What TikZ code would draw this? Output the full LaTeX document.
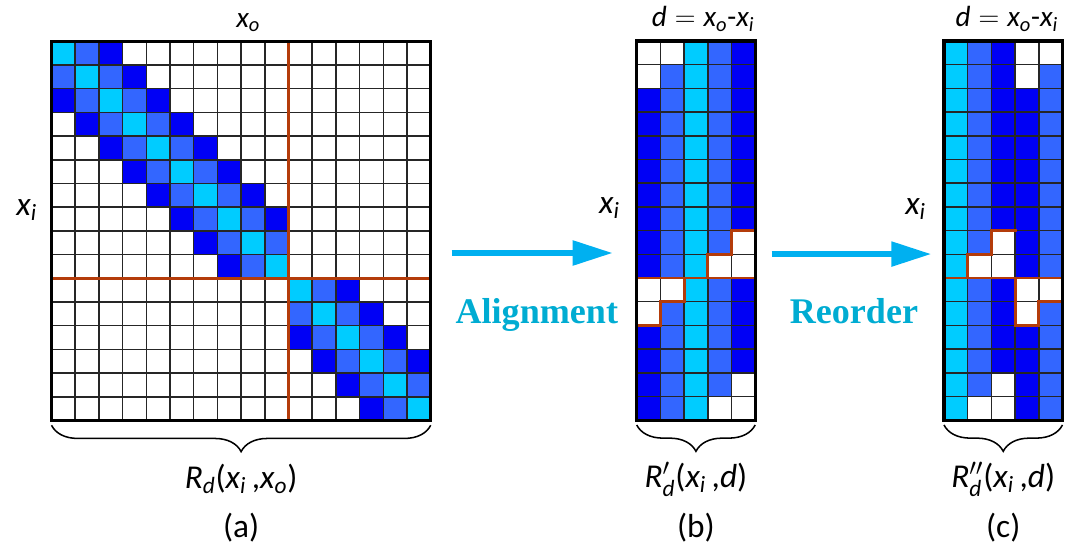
\documentclass[tikz,border=0pt]{standalone}
\usepackage{amsmath}
\usepackage{fontspec}
\setmainfont{Carlito}
\newfontfamily\capfont{Liberation Serif}
\usetikzlibrary{arrows.meta,positioning,decorations.pathreplacing,calc}

\definecolor{band0}{HTML}{00CCFF}
\definecolor{band1}{HTML}{3366FF}
\definecolor{band2}{HTML}{0000F5}
\definecolor{split}{RGB}{180,60,10}
\definecolor{flow}{HTML}{00B0F0}
\definecolor{flowtext}{RGB}{0,172,210}

\newcommand{\iv}[1]{\text{\itshape #1}}

\begin{document}
\begin{tikzpicture}[
    x=0.6cm, y=-0.6cm, % one unit = one cell, rows counted downwards
    gridline/.style={draw=black!85, line width=1.05pt},
    frameline/.style={draw=black, line width=2.2pt},
    splitline/.style={draw=split, line width=2.1pt, line cap=rect},
    flowarrow/.style={draw=flow, line width=4.7pt, -{Triangle[length=29pt,width=17pt]}},
    flowlabel/.style={font=\capfont\bfseries\fontsize{26}{30}\selectfont, text=flowtext, anchor=base, inner sep=0pt},
    axis/.style={font=\fontsize{24}{28}\selectfont, anchor=base, inner sep=0pt},
    toplabel/.style={font=\fontsize{21}{25}\selectfont, anchor=base, inner sep=0pt},
    caption/.style={font=\fontsize{24}{28}\selectfont, anchor=base, inner sep=0pt},
    curly/.style={draw, line width=1.1pt, decorate, decoration={brace, mirror, amplitude=19pt}}
  ]
    \useasboundingbox (0,0) rectangle (45.907,23.122);

    % (a) full matrix, two diagonal blocks
    \begin{scope}[shift={(2.173,1.743)}]
      \foreach \r in {0,...,15}
        \foreach \c in {0,...,15}{
          \pgfmathtruncatemacro{\dd}{abs(\c-\r)}
          \pgfmathtruncatemacro{\same}{(\r<10)==(\c<10)}
          \ifnum\same=1 \ifnum\dd<3
            \fill[band\dd] (\c,\r) rectangle ++(1,1);
          \fi\fi
        }
      \foreach \k in {1,...,15}{
        \draw[gridline] (\k,0) -- (\k,16);
        \draw[gridline] (0,\k) -- (16,\k);
      }
      \draw[splitline] (10,0) -- (10,16);
      \draw[splitline] (0,10) -- (16,10);
      \draw[frameline] (0,0) rectangle (16,16);

      \node[toplabel] (xoA) at (8.3,-0.6) {$\iv{x}_{\iv{o}}$};
      \node[axis] (xiA) at (-1.05,7.33) {$\iv{x}_{\iv{i}}$};
      \draw[curly] (0,16.2) -- (16,16.2);
      \node[axis] (rA) at (8,18.85) {$\iv{R}_{\iv{d}}\text{(}\iv{x}_{\iv{i}}\,\text{,}\iv{x}_{\iv{o}}\text{)}$};
      \node[caption] (capA) at (8,20.95) {(a)};
    \end{scope}

    % (b) aligned by offset d
    \begin{scope}[shift={(26.865,1.73)}]
      \foreach \r in {0,...,15}
        \foreach \j in {0,...,4}{
          \pgfmathtruncatemacro{\c}{\r+\j-2}
          \pgfmathtruncatemacro{\dd}{abs(\j-2)}
          \pgfmathtruncatemacro{\ok}{(\c>=0)&&(\c<16)&&((\r<10)==(\c<10))}
          \ifnum\ok=1
            \fill[band\dd] (\j,\r) rectangle ++(1,1);
          \fi
        }
      \foreach \k in {1,...,4} \draw[gridline] (\k,0) -- (\k,16);
      \foreach \k in {1,...,15} \draw[gridline] (0,\k) -- (5,\k);
      \draw[splitline] (5,8) -- (4,8) -- (4,9) -- (3,9) -- (3,10);
      \draw[splitline] (0,10) -- (5,10);
      \draw[splitline] (2,10) -- (2,11) -- (1,11) -- (1,12) -- (0,12);
      \draw[frameline] (0,0) rectangle (5,16);

      \node[toplabel] (dB) at (2.8,-0.6) {$\iv{d} = \iv{x}_{\iv{o}}\text{-}\iv{x}_{\iv{i}}$};
      \node[axis] (xiB) at (-1.15,7.29) {$\iv{x}_{\iv{i}}$};
      \draw[curly] (0,16.2) -- (5,16.2);
      \node[axis] (rB) at (2.5,18.85) {$\iv{R}'_{\iv{d}}\text{(}\iv{x}_{\iv{i}}\,\text{,}\iv{d}\text{)}$};
      \node[caption] (capB) at (2.5,20.95) {(b)};
    \end{scope}

    % (c) columns reordered
    \begin{scope}[shift={(39.83,1.73)}]
      \foreach \r in {0,...,15}
        \foreach \j/\d in {0/0,1/1,2/2,3/-2,4/-1}{
          \pgfmathtruncatemacro{\c}{\r+\d}
          \pgfmathtruncatemacro{\dd}{abs(\d)}
          \pgfmathtruncatemacro{\ok}{(\c>=0)&&(\c<16)&&((\r<10)==(\c<10))}
          \ifnum\ok=1
            \fill[band\dd] (\j,\r) rectangle ++(1,1);
          \fi
        }
      \foreach \k in {1,...,4} \draw[gridline] (\k,0) -- (\k,16);
      \foreach \k in {1,...,15} \draw[gridline] (0,\k) -- (5,\k);
      \draw[splitline] (3,8) -- (2,8) -- (2,9) -- (1,9) -- (1,10);
      \draw[splitline] (0,10) -- (5,10);
      \draw[splitline] (3,10) -- (3,12) -- (4,12) -- (4,11) -- (5,11) -- (5,10);
      \draw[frameline] (0,0) rectangle (5,16);

      \node[toplabel] (dC) at (2.65,-0.6) {$\iv{d} = \iv{x}_{\iv{o}}\text{-}\iv{x}_{\iv{i}}$};
      \node[axis] (xiC) at (-1.2,7.33) {$\iv{x}_{\iv{i}}$};
      \draw[curly] (0,16.2) -- (5,16.2);
      \node[axis] (rC) at (2.5,18.85) {$\iv{R}''_{\iv{d}}\text{(}\iv{x}_{\iv{i}}\,\text{,}\iv{d}\text{)}$};
      \node[caption] (capC) at (2.5,20.95) {(c)};
    \end{scope}

    % Transition arrows
    \coordinate (alignS) at (19.06,10.675);
    \coordinate (alignE) at (25.865,10.675);
    \coordinate (orderS) at (32.56,10.72);
    \coordinate (orderE) at (39.31,10.72);
    \draw[flowarrow] (alignS) -- (alignE);
    \draw[flowarrow] (orderS) -- (orderE);
    \node[flowlabel] (alignT) at (22.65,13.63) {Alignment};
    \node[flowlabel] (orderT) at (36.03,13.63) {Reorder};

  \end{tikzpicture}
\end{document}
